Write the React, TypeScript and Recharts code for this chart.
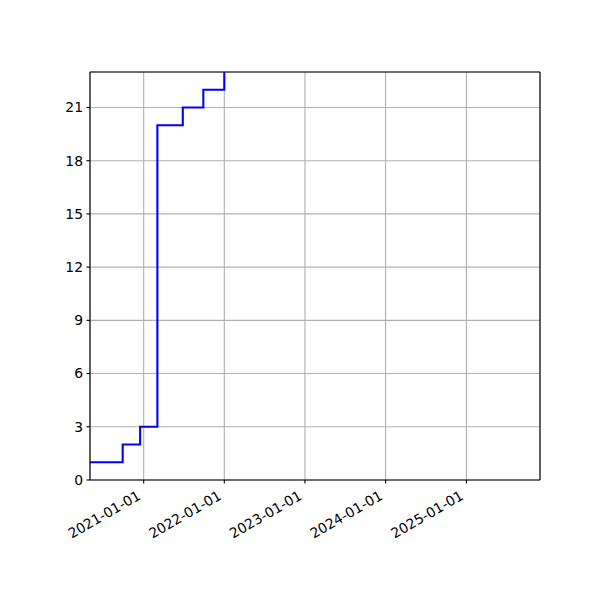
import React from 'react'
import { LineChart, Line, XAxis, YAxis, CartesianGrid, ReferenceLine } from 'recharts'

// step dates and the running total that starts on each one
const stepDates = ['2020-05-03', '2020-09-28', '2020-12-16', '2021-03-04', '2021-06-27', '2021-09-28', '2022-01-01']
const stepValues = [1, 2, 3, 20, 21, 22, 25]

const xTickDates = ['2021-01-01', '2022-01-01', '2023-01-01', '2024-01-01', '2025-01-01']
const yTicks = [0, 3, 6, 9, 12, 15, 18, 21]
const xRange = ['2020-05-03', '2025-11-30']
const yRange = [0, 23]

const toTime = (d: string) => Date.parse(d + 'T00:00:00Z')

const data = stepDates.map((d, i) => ({ t: toTime(d), v: stepValues[i] }))
const xTicks = xTickDates.map(toTime)
const xDomain = xRange.map(toTime)

const font = '"DejaVu Sans", sans-serif'
const spine = { stroke: '#000', strokeWidth: 1.1 }

function fmtDate(t: number) {
  return new Date(t).toISOString().slice(0, 10)
}

function DateTick(props: any) {
  const { x, y, payload } = props
  const px = x - 2
  const py = y + 15
  return (
    <text
      x={px}
      y={py}
      textAnchor="end"
      fontSize={13.9}
      fontFamily={font}
      fill="#000"
      transform={`rotate(-30, ${px}, ${py})`}
    >
      {fmtDate(payload.value)}
    </text>
  )
}

export default function App() {
  return (
    <div style={{ position: 'absolute', left: 0, top: 0, background: '#fff' }}>
      <LineChart width={600} height={600} data={data} margin={{ top: 72, right: 60, bottom: 0, left: 0 }}>
        <CartesianGrid stroke="#b0b0b0" strokeWidth={1.1} />
        <XAxis
          dataKey="t"
          type="number"
          scale="time"
          domain={xDomain}
          ticks={xTicks}
          allowDataOverflow
          height={120}
          tickSize={3.5}
          tickMargin={0}
          axisLine={spine}
          tickLine={spine}
          tick={<DateTick />}
          interval={0}
        />
        <YAxis
          type="number"
          domain={yRange}
          ticks={yTicks}
          allowDataOverflow
          width={90}
          tickSize={3.5}
          tickMargin={3.5}
          axisLine={spine}
          tickLine={spine}
          interval={0}
          tick={{ fontSize: 13.9, fontFamily: font, fill: '#000' }}
        />
        <ReferenceLine y={yRange[1]} stroke="#000" strokeWidth={1.1} />
        <ReferenceLine x={xDomain[1]} stroke="#000" strokeWidth={1.1} />
        <Line
          dataKey="v"
          type="stepAfter"
          stroke="#0000ff"
          strokeWidth={2.1}
          dot={false}
          isAnimationActive={false}
        />
      </LineChart>
    </div>
  )
}
